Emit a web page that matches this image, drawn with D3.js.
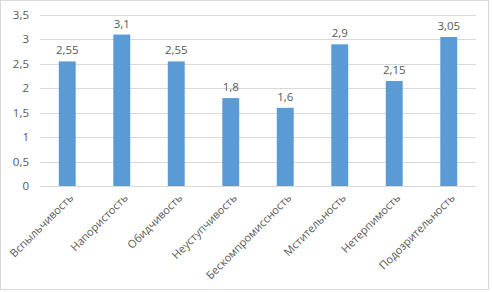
<!DOCTYPE html>
<html>
<head>
<meta charset="utf-8">
<script src="https://cdn.jsdelivr.net/npm/d3@7"></script>
<style>
  body { margin: 0; background: #fff; }
  svg text { font-family: "Segoe UI", "Open Sans", "DejaVu Sans", sans-serif; fill: #595959; }
</style>
</head>
<body>
<div id="graphic"></div>
<script>
const categories = ['Вспыльчивость', 'Напористость', 'Обидчивость', 'Неуступчивость', 'Бескомпромиссность', 'Мстительность', 'Нетерпимость', 'Подозрительность'];
const values = [2.55, 3.1, 2.55, 1.8, 1.6, 2.9, 2.15, 3.05];
const yTicks = [0, 0.5, 1, 1.5, 2, 2.5, 3, 3.5];

const width = 492, height = 292;
const margin = { top: 15, right: 16, bottom: 106, left: 40 };
const chartWidth = width - margin.left - margin.right;
const chartHeight = height - margin.top - margin.bottom;

const fmt = (v) => String(v).replace('.', ',');

const svg = d3.select('#graphic')
    .append('svg')
    .attr('width', width)
    .attr('height', height);

// outer frame
svg.append('rect')
    .attr('x', 0.5).attr('y', 0.5)
    .attr('width', width - 4).attr('height', height - 3)
    .attr('fill', '#fff')
    .attr('stroke', '#d9d9d9');

const g = svg.append('g').attr('transform', `translate(${margin.left},${margin.top})`);

const x = d3.scaleBand().domain(categories).range([0, chartWidth]).paddingInner(0.69).paddingOuter(0.345);
const y = d3.scaleLinear().domain([0, 3.5]).range([chartHeight, 0]);

// grid lines
g.append('g')
    .selectAll('line')
    .data(yTicks)
    .join('line')
    .attr('x1', 0).attr('x2', chartWidth)
    .attr('y1', (d) => Math.round(y(d)) + 0.5)
    .attr('y2', (d) => Math.round(y(d)) + 0.5)
    .attr('stroke', '#d9d9d9');

// y tick labels
g.append('g')
    .selectAll('text')
    .data(yTicks)
    .join('text')
    .attr('x', -11)
    .attr('y', (d) => y(d))
    .attr('dy', '0.35em')
    .attr('text-anchor', 'end')
    .style('font-size', '11.5px')
    .text(fmt);

// bars
g.append('g')
    .selectAll('rect')
    .data(values)
    .join('rect')
    .attr('x', (d, i) => x(categories[i]))
    .attr('y', (d) => y(d))
    .attr('width', x.bandwidth())
    .attr('height', (d) => chartHeight - y(d))
    .attr('fill', '#5b9bd5');

// value labels
g.append('g')
    .selectAll('text')
    .data(values)
    .join('text')
    .attr('x', (d, i) => x(categories[i]) + x.bandwidth() / 2)
    .attr('y', (d) => y(d) - 7)
    .attr('text-anchor', 'middle')
    .style('font-size', '11.5px')
    .text(fmt);

// category labels
g.append('g')
    .selectAll('text')
    .data(categories)
    .join('text')
    .attr('transform', (d) => `translate(${x(d) + x.bandwidth() / 2 + 4},${chartHeight + 10}) rotate(-45)`)
    .attr('text-anchor', 'end')
    .attr('dy', '0.35em')
    .style('font-size', '11px')
    .text((d) => d);
</script>
</body>
</html>
